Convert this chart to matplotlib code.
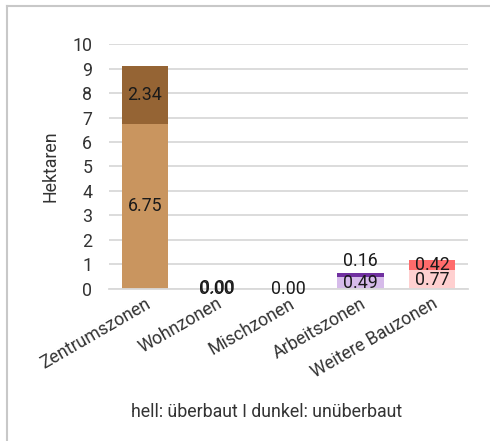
import matplotlib
matplotlib.use("Agg")
import matplotlib.pyplot as plt
import numpy as np

plt.rcParams['font.family'] = ['Roboto', 'DejaVu Sans']

# Daten
zonen = ["Zentrumszonen", "Wohnzonen", "Mischzonen", "Arbeitszonen", "Weitere Bauzonen"]
ueberbaut = [6.75, 0.0, 0.0, 0.49, 0.77]
unueberbaut = [2.34, 0.0, 0.0, 0.16, 0.42]
farben_hell = ["#C9955F", "#C9955F", "#C9955F", "#D6BBEA", "#FFD0D0"]
farben_dunkel = ["#956434", "#956434", "#956434", "#7030A0", "#FF6B6B"]

fig = plt.figure(figsize=(4.9, 4.41), dpi=100)
ax = fig.add_axes([0.2224, 0.3447, 0.7327, 0.5555])

x = np.arange(len(zonen))
breite = 0.65
ax.bar(x, ueberbaut, breite, color=farben_hell, zorder=2)
ax.bar(x, unueberbaut, breite, bottom=ueberbaut, color=farben_dunkel, zorder=2)

# Beschriftungen
textfarbe = "#1a1a1a"
gr = 12.8
for i in range(len(zonen)):
    h = ueberbaut[i]
    d = unueberbaut[i]
    if i == 1:
        # zwei Labels uebereinander (wirkt fett)
        ax.text(x[i], 0.0, "%.2f" % h, ha="center", va="center", fontsize=gr, color=textfarbe, zorder=3)
        ax.text(x[i] + 0.008, 0.02, "%.2f" % d, ha="center", va="center", fontsize=gr, color=textfarbe, zorder=3)
        continue
    if i == 2:
        ax.text(x[i], 0.0, "%.2f" % h, ha="center", va="center", fontsize=gr, color=textfarbe, zorder=3)
        continue
    ax.text(x[i], h / 2, "%.2f" % h, ha="center", va="center", fontsize=gr, color=textfarbe, zorder=3)
    if i == 3:
        ax.text(x[i], h + d + 0.12, "%.2f" % d, ha="center", va="bottom", fontsize=gr, color=textfarbe, zorder=3)
    else:
        ax.text(x[i], h + d / 2, "%.2f" % d, ha="center", va="center", fontsize=gr, color=textfarbe, zorder=3)

ax.set_ylim(0, 10)
ax.set_xlim(-0.5, 4.5)
ax.set_yticks(range(0, 11))
ax.yaxis.grid(True, color="#d9d9d9", linewidth=1.3, zorder=0)
ax.set_axisbelow(True)
for s in ["top", "right", "left"]:
    ax.spines[s].set_visible(False)
ax.spines["bottom"].set_color("#d9d9d9")
ax.spines["bottom"].set_linewidth(1.3)
ax.tick_params(axis="both", length=0, labelsize=gr, colors="#333333")
ax.tick_params(axis="y", pad=12)
ax.tick_params(axis="x", pad=4)
ax.set_xticks(x)
ax.set_xticklabels(zonen, rotation=30, ha="right", rotation_mode="anchor")
ax.set_ylabel("Hektaren", fontsize=gr, color="#333333", labelpad=9)

fig.text(267 / 490, 1 - 412 / 441, "hell: überbaut I dunkel: unüberbaut", ha="center", va="center",
         fontsize=gr, color="#333333")

# Rahmen
fig.add_artist(plt.Line2D([7 / 490, 7 / 490], [0, 1 - 6 / 441], color="#c8c8c8", linewidth=1.5))
fig.add_artist(plt.Line2D([7 / 490, 1], [1 - 6 / 441, 1 - 6 / 441], color="#c8c8c8", linewidth=1.5))

fig.savefig("out.png", dpi=100)
